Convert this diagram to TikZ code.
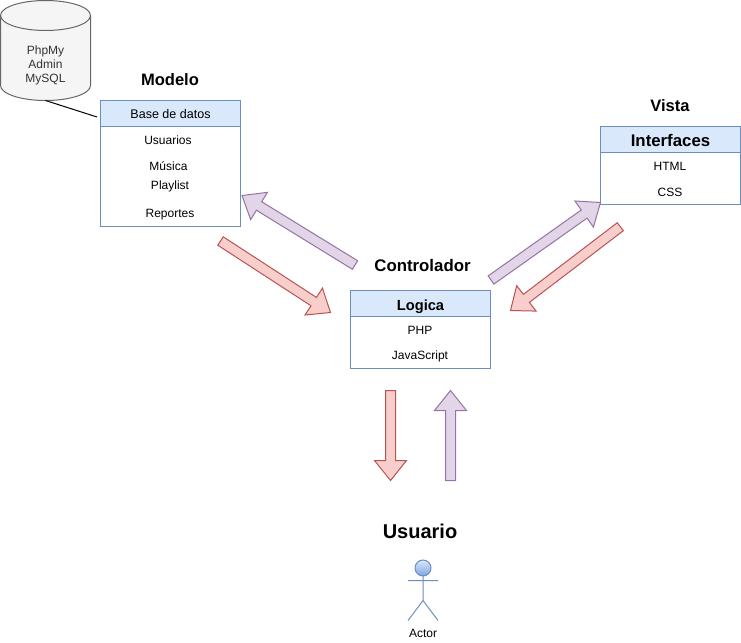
\documentclass[tikz,border=0pt]{standalone}
\usepackage{fontspec}
\setmainfont{Liberation Sans}
\usetikzlibrary{calc,positioning}
\definecolor{azulF}{HTML}{DAE8FC}
\definecolor{azulL}{HTML}{6C8EBF}
\definecolor{azulG}{HTML}{7EA6E0}
\definecolor{rojoF}{HTML}{F8CECC}
\definecolor{rojoL}{HTML}{B85450}
\definecolor{moradoF}{HTML}{E1D5E7}
\definecolor{moradoL}{HTML}{9673A6}
\definecolor{grisF}{HTML}{F5F5F5}
\definecolor{grisL}{HTML}{666666}
\definecolor{grisT}{HTML}{333333}
\tikzstyle{titulo} = [font=\bfseries\fontsize{12.4}{14}\selectfont, inner sep=0pt]
\tikzstyle{cabecera} = [rectangle, draw=azulL, fill=azulF, minimum width=105pt, minimum height=19.5pt, outer sep=0pt, inner sep=0pt, line width=.75pt, text depth=.2pt]
\tikzstyle{cuerpo} = [rectangle, draw=azulL, fill=white, minimum width=105pt, outer sep=0pt, inner sep=0pt, line width=.75pt]
\tikzstyle{item} = [font=\fontsize{9}{10.5}\selectfont, inner sep=0pt]
\tikzstyle{bloque} = [line width=.75pt, line join=miter, to path={
    -- ($(\tikztostart)!3.75pt!90:(\tikztotarget)$)
    -- ($($(\tikztotarget)!15pt!(\tikztostart)$)!3.75pt!-90:(\tikztostart)$)
    -- ($($(\tikztotarget)!15pt!(\tikztostart)$)!12pt!-90:(\tikztostart)$)
    -- (\tikztotarget)
    -- ($($(\tikztotarget)!15pt!(\tikztostart)$)!12pt!90:(\tikztostart)$)
    -- ($($(\tikztotarget)!15pt!(\tikztostart)$)!3.75pt!90:(\tikztostart)$)
    -- ($(\tikztostart)!3.75pt!-90:(\tikztotarget)$)
    -- cycle}]
\tikzstyle{ida} = [bloque, draw=rojoL, fill=rojoF]
\tikzstyle{vuelta} = [bloque, draw=moradoL, fill=moradoF]
\tikzstyle{actor} = [draw=azulL, line width=.75pt]
\begin{document}
\begin{tikzpicture}[x=.75pt,y=-.75pt]
    \useasboundingbox (0,0) rectangle (741,642);

    % Modelo
    \draw[draw=grisL, fill=grisF, line width=.75pt] (0.5,15.5) -- (0.5,85.5) arc[start angle=180, end angle=360, x radius=33.75pt, y radius=11.25pt] -- (90.5,15.5) arc[start angle=0, end angle=180, x radius=33.75pt, y radius=11.25pt] -- cycle;
    \draw[draw=grisL, line width=.75pt] (0.5,15.5) arc[start angle=180, end angle=360, x radius=33.75pt, y radius=11.25pt];
    \node[item, text=grisT, align=center] (DbTexto) at (45.5,65) {PhpMy\\Admin\\MySQL};
    \node[titulo] (Modelo) at (170,80) {Modelo};
    \node[cabecera, text height=7pt] (BaseDatos) at (170.5,113.5) {\fontsize{9.4}{11}\selectfont Base de datos};
    \node[cuerpo, minimum height=75pt, below=0pt of BaseDatos] (ModeloCuerpo) {};
    \node[item] (Usuarios) at (168,140.5) {Usuarios};
    \node[item] (Musica) at (168.5,166) {Música};
    \node[item] (Playlist) at (170,186.5) {Playlist};
    \node[item] (Reportes) at (170,214.5) {Reportes};
    \coordinate (DbBase) at (45.5,100.5);
    \coordinate (DbFin) at (97,117);
    \draw[black, line width=.75pt] (DbBase) -- (DbFin);

    % Vista
    \node[titulo] (Vista) at (670,105.5) {Vista};
    \node[cabecera, text height=11pt] (Interfaces) at (670.5,139.5) {\bfseries\fontsize{12.6}{14}\selectfont Interfaces};
    \node[cuerpo, minimum height=39pt, below=0pt of Interfaces] (VistaCuerpo) {};
    \node[item] (Html) at (670,166.5) {HTML};
    \node[item] (Css) at (670,192) {CSS};

    % Controlador
    \node[titulo, font=\bfseries\fontsize{12.6}{14}\selectfont] (Controlador) at (422.5,265.5) {Controlador};
    \node[cabecera, text height=10pt] (Logica) at (420.5,303.5) {\bfseries\fontsize{11}{13}\selectfont Logica};
    \node[cuerpo, minimum height=39pt, below=0pt of Logica] (LogicaCuerpo) {};
    \node[item] (Php) at (420,330) {PHP};
    \node[item] (Js) at (420,356.5) {JavaScript};

    % Usuario
    \node[titulo, font=\bfseries\fontsize{15}{18}\selectfont] (Usuario) at (420,531) {Usuario};
    \node[circle, draw=azulL, top color=azulF, bottom color=azulG, line width=.75pt, minimum size=12pt, inner sep=0pt, outer sep=0pt] (Cabeza) at (423,568) {};
    \coordinate (Cadera) at (423,600.5);
    \coordinate (BrazoI) at (408,580.5);
    \coordinate (BrazoD) at (438,580.5);
    \coordinate (PieI) at (408,620.5);
    \coordinate (PieD) at (438,620.5);
    \draw[actor] (Cabeza) -- (Cadera) (BrazoI) -- (BrazoD) (PieI) -- (Cadera) -- (PieD);
    \node[item] (Actor) at (423,633.5) {Actor};

    % flechas
    \coordinate (A1) at (355,265);
    \coordinate (A2) at (242,195.5);
    \coordinate (B1) at (220.5,241);
    \coordinate (B2) at (330.5,312.5);
    \coordinate (C1) at (491,280);
    \coordinate (C2) at (600.5,202.5);
    \coordinate (D1) at (620.3,226.7);
    \coordinate (D2) at (510.5,310.5);
    \coordinate (E1) at (390.5,390.5);
    \coordinate (E2) at (390.5,480.5);
    \coordinate (F1) at (450.5,480.5);
    \coordinate (F2) at (450.5,390.5);
    \draw[vuelta] (A1) to (A2);
    \draw[ida] (B1) to (B2);
    \draw[vuelta] (C1) to (C2);
    \draw[ida] (D1) to (D2);
    \draw[ida] (E1) to (E2);
    \draw[vuelta] (F1) to (F2);
\end{tikzpicture}
\end{document}
